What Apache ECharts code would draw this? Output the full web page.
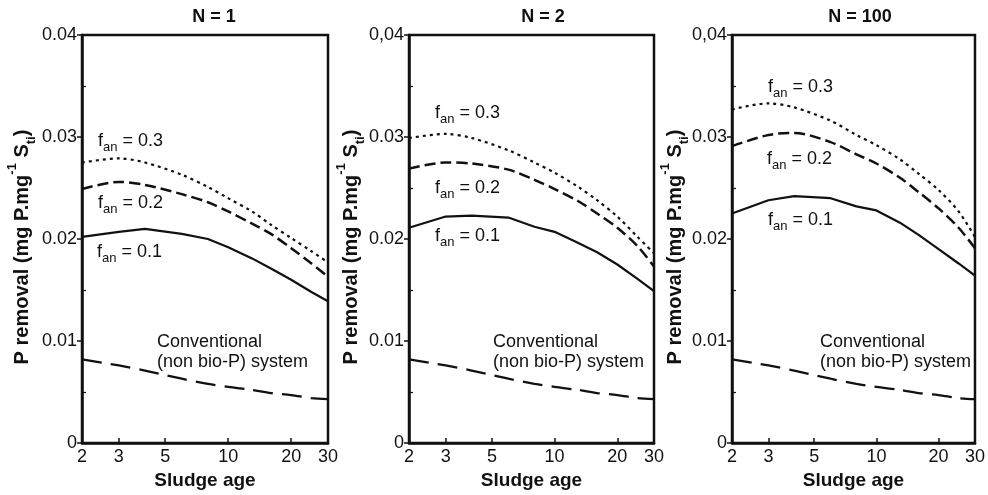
<!DOCTYPE html>
<html><head><meta charset="utf-8">
<style>html,body{margin:0;padding:0;background:#fff}#c{width:988px;height:495px}</style>
<script src="https://cdn.jsdelivr.net/npm/echarts@6.0.0/dist/echarts.min.js"></script>
</head><body><div id="c"></div>
<script>
// ---- data ----
const sludgeAge = [2, 3, 4, 6, 8, 10, 13, 16, 20, 25, 30];
const xTickValues = [2, 3, 5, 10, 20, 30];
const xTickLabels = ['2', '3', '5', '10', '20', '30'];
const yTickValues = [0, 0.01, 0.02, 0.03, 0.04];
const yMinorTickValues = [0.005, 0.015, 0.025, 0.035];
const yTickLabelsN1 = ['0', '0.01', '0.02', '0.03', '0.04'];
const yTickLabelsN2 = ['0', '0.01', '0.02', '0.03', '0,04'];
const yTickLabelsN100 = ['0', '0.01', '0.02', '0.03', '0,04'];
const panelTitles = ['N = 1', 'N = 2', 'N = 100'];
const curveLabels = ['0.3', '0.2', '0.1'];

const n1_fan03 = [0.0275, 0.0279, 0.0275, 0.0263, 0.0251, 0.0240, 0.0227, 0.0214, 0.0201, 0.0188, 0.0177];
const n1_fan02 = [0.0249, 0.0256, 0.0253, 0.0244, 0.0236, 0.0227, 0.0215, 0.0205, 0.0191, 0.0176, 0.0163];
const n1_fan01 = [0.0202, 0.0207, 0.0210, 0.0205, 0.0200, 0.0192, 0.0181, 0.0171, 0.0160, 0.0148, 0.0139];

const n2_fan03 = [0.0299, 0.0303, 0.0299, 0.0287, 0.0275, 0.0265, 0.0251, 0.0238, 0.0222, 0.0202, 0.0186];
const n2_fan02 = [0.0269, 0.0275, 0.0274, 0.0268, 0.0258, 0.0249, 0.0237, 0.0225, 0.0211, 0.0193, 0.0173];
const n2_fan01 = [0.0211, 0.0222, 0.0223, 0.0221, 0.0212, 0.0207, 0.0196, 0.0187, 0.0175, 0.0161, 0.0149];

const n100_fan03 = [0.0327, 0.0333, 0.0329, 0.0316, 0.0302, 0.0292, 0.0278, 0.0264, 0.0248, 0.0227, 0.0202];
const n100_fan02 = [0.0291, 0.0302, 0.0304, 0.0295, 0.0283, 0.0274, 0.0260, 0.0246, 0.0230, 0.0211, 0.0191];
const n100_fan01 = [0.0225, 0.0238, 0.0242, 0.0240, 0.0232, 0.0228, 0.0216, 0.0204, 0.0190, 0.0176, 0.0164];

const conventional = [0.0082, 0.0076, 0.0071, 0.0063, 0.0058, 0.0055, 0.0052, 0.0049, 0.0047, 0.0044, 0.0043];

// ---- layout / style ----
const FONT = '"Liberation Sans", Arial, Helvetica, sans-serif';
const INK = '#111';
const gridBoxes = [
  {left: 82, top: 35, width: 246, height: 408},
  {left: 409, top: 35, width: 245, height: 408},
  {left: 732, top: 35, width: 246, height: 408}
];
const panels = [
  {fan: [n1_fan03, n1_fan02, n1_fan01], yLabels: yTickLabelsN1},
  {fan: [n2_fan03, n2_fan02, n2_fan01], yLabels: yTickLabelsN2},
  {fan: [n100_fan03, n100_fan02, n100_fan01], yLabels: yTickLabelsN100}
];
const lineStyles = [
  {type: [3, 4], width: 2.2},
  {type: [11, 5], width: 2.5},
  {type: 'solid', width: 2.2}
];
const convStyle = {type: [20, 9], width: 2.3};

// annotation placement (pixels)
const titlePos = [[214, 17], [543, 17], [860, 17]];
const yNamePos = [[22, 247], [351, 247], [675, 247]];
const fanLabelPos = [
  [[98, 141], [98, 203], [97, 252]],
  [[435, 113], [435, 188], [435, 236]],
  [[768, 87], [767, 159], [768, 220]]
];
const convPos = [[157, 342], [493, 342], [820, 342]];

const lg = Math.log10;
const xTickLog = xTickValues.map(lg);
function xLabel(v) {
  for (let j = 0; j < xTickValues.length; j++) if (Math.abs(xTickLog[j] - v) < 1e-6) return xTickLabels[j];
  return '';
}

const grid = [], xAxis = [], yAxis = [], series = [], graphic = [];
panels.forEach((p, i) => {
  grid.push(Object.assign({show: true, borderColor: INK, borderWidth: 2.5, backgroundColor: 'transparent'}, gridBoxes[i]));
  xAxis.push({
    gridIndex: i, type: 'value', min: lg(2), max: lg(30),
    name: 'Sludge age', nameLocation: 'middle', nameGap: 26,
    nameTextStyle: {fontFamily: FONT, fontSize: 19, fontWeight: 'bold', color: INK},
    axisLine: {show: true, onZero: false, lineStyle: {color: INK, width: 2.5}},
    axisTick: {show: true, inside: true, length: 5, customValues: xTickLog, lineStyle: {color: INK, width: 1.5}},
    axisLabel: {show: true, customValues: xTickLog, formatter: xLabel, fontFamily: FONT, fontSize: 18, color: INK, margin: 5},
    splitLine: {show: false}
  });
  yAxis.push({
    gridIndex: i, type: 'value', min: 0, max: 0.04, interval: 0.01, position: 'left',
    axisLine: {show: true, onZero: false, lineStyle: {color: INK, width: 2.5}},
    axisTick: {show: true, inside: false, length: 5, lineStyle: {color: INK, width: 1.5}},
    axisLabel: {show: true, fontFamily: FONT, fontSize: 18, color: INK, margin: 5,
      formatter: v => p.yLabels[Math.round(v / 0.01)]},
    splitLine: {show: false}
  });
  yAxis.push({
    gridIndex: i, type: 'value', min: 0, max: 0.04, position: 'left', offset: 0,
    axisLine: {show: false},
    axisTick: {show: true, inside: true, length: 4, customValues: yMinorTickValues, lineStyle: {color: INK, width: 1.2}},
    axisLabel: {show: false},
    splitLine: {show: false}
  });
  const yIdx = i * 2;
  p.fan.forEach((vals, k) => {
    series.push({
      type: 'line', xAxisIndex: i, yAxisIndex: yIdx, name: 'fan ' + curveLabels[k],
      data: sludgeAge.map((a, n) => [lg(a), vals[n]]),
      symbol: 'none', smooth: k === 2 ? false : 0.3, silent: true,
      lineStyle: {color: INK, type: lineStyles[k].type, width: lineStyles[k].width}
    });
  });
  series.push({
    type: 'line', xAxisIndex: i, yAxisIndex: yIdx, name: 'Conventional',
    data: sludgeAge.map((a, n) => [lg(a), conventional[n]]),
    symbol: 'none', smooth: 0.3, silent: true,
    lineStyle: {color: INK, type: convStyle.type, width: convStyle.width}
  });

  graphic.push({
    type: 'text', x: titlePos[i][0], y: titlePos[i][1],
    style: {text: panelTitles[i], fill: INK, font: 'bold 18px ' + FONT, align: 'center', verticalAlign: 'middle'}
  });
  graphic.push({
    type: 'text', x: yNamePos[i][0], y: yNamePos[i][1], rotation: Math.PI / 2,
    style: {
      text: '{b|P removal (mg P.mg}{sup|-1}{b| S}{sub|ti}{b|)}',
      align: 'center', verticalAlign: 'middle',
      rich: {
        b: {fontFamily: FONT, fontSize: 20, fontWeight: 'bold', fill: INK, lineHeight: 32},
        sup: {fontFamily: FONT, fontSize: 13, fontWeight: 'bold', fill: INK, verticalAlign: 'top'},
        sub: {fontFamily: FONT, fontSize: 13, fontWeight: 'bold', fill: INK, verticalAlign: 'bottom'}
      }
    }
  });
  curveLabels.forEach((lab, k) => {
    graphic.push({
      type: 'text', x: fanLabelPos[i][k][0], y: fanLabelPos[i][k][1],
      style: {
        text: '{m|f}{s|an}{m| = ' + lab + '}',
        align: 'left', verticalAlign: 'middle',
        rich: {
          m: {fontFamily: FONT, fontSize: 18, fill: INK, lineHeight: 26},
          s: {fontFamily: FONT, fontSize: 13, fill: INK, verticalAlign: 'bottom'}
        }
      }
    });
  });
  graphic.push({
    type: 'text', x: convPos[i][0], y: convPos[i][1],
    style: {text: 'Conventional\n(non bio-P) system', fill: INK, font: '18px ' + FONT,
      lineHeight: 20, align: 'left', verticalAlign: 'top', y: -10}
  });
});

const chart = echarts.init(document.getElementById('c'), null, {renderer: 'canvas'});
chart.setOption({animation: false, backgroundColor: '#fff', grid, xAxis, yAxis, series, graphic});
</script>
</body></html>
